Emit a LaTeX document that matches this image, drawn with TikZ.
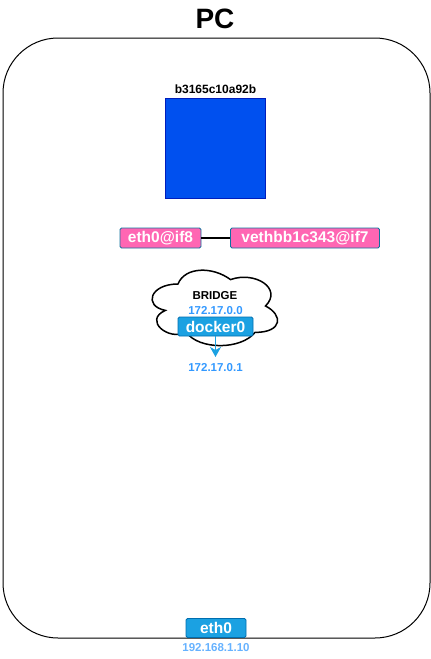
\documentclass[tikz,border=0pt]{standalone}
\usepackage{fontspec}
\setmainfont{Liberation Sans}
\usetikzlibrary{arrows.meta}
\definecolor{pinkfill}{HTML}{FF66B3}
\definecolor{pinkline}{HTML}{10739E}
\definecolor{dockfill}{HTML}{1BA1E2}
\definecolor{dockline}{HTML}{006EAF}
\definecolor{ctfill}{HTML}{0050EF}
\definecolor{ctline}{HTML}{001DBC}
\definecolor{iptext}{HTML}{3399FF}
\definecolor{hosttext}{HTML}{66B2FF}

\begin{document}
\begin{tikzpicture}[x=1pt,y=-1pt,every node/.style={inner sep=0pt,font=\bfseries},
  veth/.style={draw=pinkline,line width=0.8pt,fill=pinkfill,rounded corners=1.5pt,text=white,minimum height=20pt,font=\bfseries\fontsize{15.5}{18}\selectfont},
  iface/.style={draw=dockline,line width=0.8pt,fill=dockfill,rounded corners=1.5pt,text=white,minimum height=19pt,font=\bfseries\fontsize{15.5}{18}\selectfont},
  ip/.style={text=iptext,font=\bfseries\fontsize{11.5}{13}\selectfont}]
  \useasboundingbox (0,0) rectangle (431,659);
    \node[draw,line width=1pt,rounded corners=55pt,minimum width=427pt,minimum height=600pt] (pc) at (216.5,338) {};
    \node[font=\bfseries\fontsize{28}{32}\selectfont] (title) at (215,19) {PC};

    % container
    \node[draw=ctline,fill=ctfill,minimum size=100pt] (box) at (215.5,148) {};
    \node[font=\bfseries\fontsize{12}{14}\selectfont] (boxname) at (215.5,89) {b3165c10a92b};

    % veth pair
    \node[veth,minimum width=81pt] (eth) at (160.5,238) {eth0@if8};
    \node[veth,minimum width=149pt] (vethb) at (305,238) {vethbb1c343@if7};
    \draw[line width=1.5pt] (eth) -- (vethb);

    % bridge
    \begin{scope}[shift={(143,262)},x=140pt,y=-88pt]
      \draw[line width=1.5pt,fill=white] (0.25,0.25) .. controls (0.05,0.25) and (0,0.5) .. (0.16,0.55)
        .. controls (0,0.66) and (0.18,0.9) .. (0.31,0.8)
        .. controls (0.4,1) and (0.7,1) .. (0.8,0.8)
        .. controls (1,0.8) and (1,0.6) .. (0.875,0.5)
        .. controls (1,0.3) and (0.8,0.1) .. (0.625,0.2)
        .. controls (0.5,0.05) and (0.3,0.05) .. (0.25,0.25) -- cycle;
    \end{scope}
    \node[font=\bfseries\fontsize{11.5}{13}\selectfont] (bname) at (215,296) {BRIDGE};
    \node[ip] (bnet) at (215.5,310.5) {172.17.0.0};
    \node[iface,minimum width=75pt] (docker) at (215.5,326.5) {docker0};
    \coordinate (dtip) at (215.5,357);
    \draw[-{Stealth[length=10pt,width=11pt,inset=3pt]},dockfill,line width=1.5pt] (docker) -- (dtip);
    \node[ip] (dip) at (215.5,368) {172.17.0.1};

    % host
    \node[iface,minimum width=60pt] (host) at (216,628) {eth0};
    \node[ip,text=hosttext] (hip) at (216,648) {192.168.1.10};
\end{tikzpicture}
\end{document}
